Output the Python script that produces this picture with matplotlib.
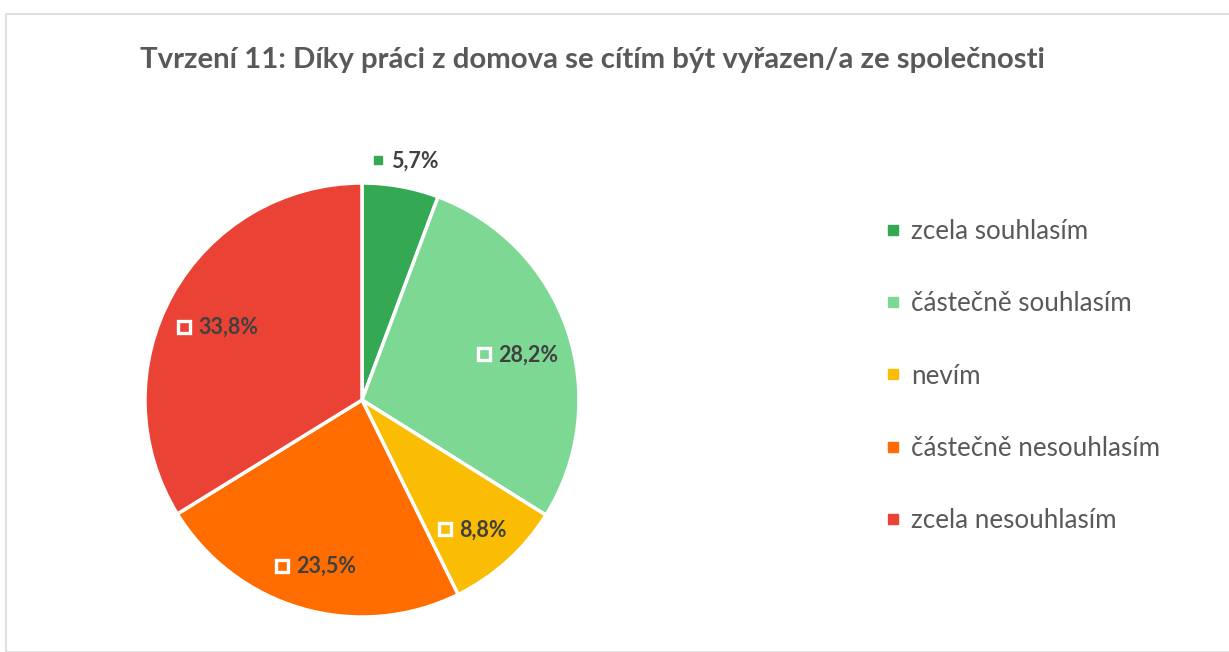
import matplotlib
matplotlib.use("Agg")
import matplotlib.pyplot as plt
import matplotlib.transforms as mtransforms
from matplotlib.lines import Line2D
from matplotlib.patches import Rectangle
import numpy as np

categories = ["zcela souhlasím", "částečně souhlasím", "nevím",
              "částečně nesouhlasím", "zcela nesouhlasím"]
values = [5.7, 28.2, 8.8, 23.5, 33.8]
labels = ["5,7%", "28,2%", "8,8%", "23,5%", "33,8%"]
colors = ["#34A853", "#7DD894", "#FBBC04", "#FF6D00", "#EA4335"]
title = "Tvrzení 11: Díky práci z domova se cítím být vyřazen/a ze společnosti"

plt.rcParams['font.family'] = ['Lato', 'DejaVu Sans']

W, H = 1229, 652
fig = plt.figure(figsize=(W / 100, H / 100), dpi=100)

# chart border
fig.patches.append(Rectangle((6.5 / W, 0), 1.2, 1 - 13.5 / H, transform=fig.transFigure,
                             fill=False, edgecolor="#D9D9D9", linewidth=1.2))

cx, cy, R = 362, 400, 217
ax = fig.add_axes([(cx - R) / W, (H - cy - R) / H, 2 * R / W, 2 * R / H])
wedges, _ = ax.pie(values, colors=colors, startangle=90, counterclock=False,
                   radius=1.0, wedgeprops=dict(edgecolor="white", linewidth=2.5))
ax.set_xlim(-1, 1)
ax.set_ylim(-1, 1)
ax.set_aspect("equal")
ax.axis("off")

renderer = fig.canvas.get_renderer()
for i, (w, lab) in enumerate(zip(wedges, labels)):
    ang = np.deg2rad((w.theta1 + w.theta2) / 2)
    outside = values[i] < 7
    r = 1.12 if outside else 0.76
    x, y = r * np.cos(ang), r * np.sin(ang)
    dy = 0 if outside else -8
    ttr = mtransforms.offset_copy(ax.transData, fig=fig, x=10, y=dy, units='dots')
    t = ax.text(x, y, lab, transform=ttr, ha='center', va='center', fontsize=15.5,
                fontweight='bold', color='#404040', clip_on=False)
    ext = t.get_window_extent(renderer)
    mx, my = ext.x0 - 14, (ext.y0 + ext.y1) / 2 + 1
    if outside:
        ax.plot([mx], [my], marker='s', markersize=6, color=colors[i],
                transform=mtransforms.IdentityTransform(), clip_on=False)
    else:
        ax.plot([mx], [my], marker='s', markersize=8.5, markerfacecolor='none',
                markeredgecolor='white', markeredgewidth=2.4,
                transform=mtransforms.IdentityTransform(), clip_on=False)

fig.text(592 / W, 1 - 60 / H, title, ha='center', va='center', fontsize=21.2,
         fontweight='bold', color='#595959')

handles = [Line2D([], [], marker='s', linestyle='none', markersize=7,
                  markerfacecolor=c, markeredgecolor=c) for c in colors]
leg = fig.legend(handles, categories, loc='upper left',
                 bbox_to_anchor=(872 / W, 1 - 206 / H), frameon=False,
                 fontsize=18.7, labelspacing=1.82, handlelength=0.6,
                 handletextpad=0.4, borderpad=0)
for t in leg.get_texts():
    t.set_color('#595959')

fig.savefig("out.png", dpi=100)
